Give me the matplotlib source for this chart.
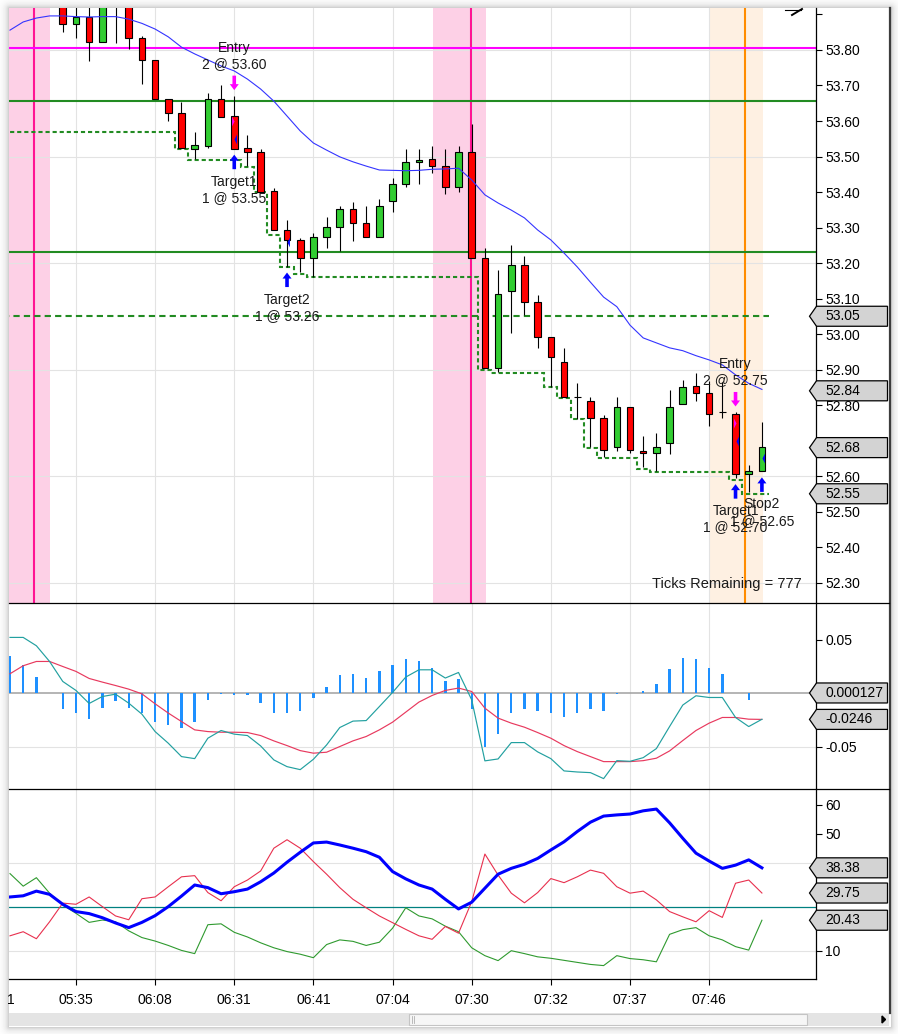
import numpy as np
import matplotlib
matplotlib.use('Agg')
import matplotlib.pyplot as plt
from matplotlib.patches import Polygon, Rectangle
from matplotlib.lines import Line2D
from matplotlib.transforms import IdentityTransform

plt.rcParams['font.family'] = ['Liberation Sans', 'DejaVu Sans']
plt.rcParams['font.size'] = 10

W, H = 898, 1034

# ---- time axis ----
n_bars = 58
time_ticks = [5, 11, 17, 23, 29, 35, 41, 47, 53]
time_labels = ['05:35', '06:08', '06:31', '06:41', '07:04', '07:30', '07:32', '07:37', '07:46']

# ---- candles (bars 0-3 are above the visible price range) ----
first_candle = 4
opens = [53.94, 53.872, 53.892, 53.822, 53.935, 53.93, 53.833, 53.771, 53.661, 53.622,
         53.522, 53.530, 53.661, 53.613, 53.524, 53.512, 53.403, 53.293, 53.265, 53.213,
         53.272, 53.302, 53.351, 53.312, 53.272, 53.374, 53.422, 53.484, 53.492, 53.472,
         53.413, 53.512, 53.213, 52.903, 53.122, 53.194, 53.091, 52.992, 52.922, 52.823,
         52.812, 52.763, 52.683, 52.793, 52.671, 52.664, 52.692, 52.802, 52.854, 52.833,
         52.781, 52.774, 52.606, 52.613]
highs = [53.96, 53.92, 53.93, 53.94, 53.95, 53.94, 53.839, 53.771, 53.661, 53.654,
         53.568, 53.678, 53.701, 53.670, 53.561, 53.521, 53.410, 53.321, 53.270, 53.284,
         53.329, 53.361, 53.373, 53.361, 53.379, 53.439, 53.521, 53.521, 53.530, 53.521,
         53.530, 53.592, 53.241, 53.180, 53.251, 53.220, 53.110, 52.992, 52.960, 52.861,
         52.822, 52.772, 52.823, 52.793, 52.713, 52.722, 52.842, 52.870, 52.891, 52.868,
         52.866, 52.779, 52.631, 52.753]
lows = [53.852, 53.833, 53.770, 53.822, 53.821, 53.802, 53.703, 53.661, 53.601, 53.523,
        53.492, 53.523, 53.612, 53.522, 53.474, 53.401, 53.293, 53.190, 53.175, 53.161,
        53.241, 53.235, 53.263, 53.272, 53.272, 53.343, 53.413, 53.422, 53.453, 53.393,
        53.401, 53.213, 52.903, 52.894, 53.002, 53.054, 52.961, 52.852, 52.823, 52.760,
        52.683, 52.653, 52.670, 52.664, 52.624, 52.613, 52.662, 52.802, 52.812, 52.742,
        52.763, 52.594, 52.554, 52.613]
closes = [53.872, 53.892, 53.822, 53.93, 53.93, 53.833, 53.771, 53.661, 53.622, 53.523,
          53.531, 53.661, 53.612, 53.522, 53.512, 53.401, 53.293, 53.265, 53.213, 53.272,
          53.302, 53.351, 53.312, 53.272, 53.361, 53.423, 53.484, 53.491, 53.473, 53.413,
          53.512, 53.213, 52.903, 53.112, 53.194, 53.091, 52.992, 52.934, 52.823, 52.823,
          52.763, 52.673, 52.793, 52.673, 52.664, 52.683, 52.793, 52.852, 52.833, 52.774,
          52.781, 52.606, 52.613, 52.683]

sma = [53.856, 53.879, 53.890, 53.896, 53.896, 53.894, 53.893, 53.894, 53.894, 53.887,
       53.875, 53.859, 53.837, 53.808, 53.789, 53.772, 53.755, 53.741, 53.718, 53.690,
       53.656, 53.614, 53.572, 53.538, 53.518, 53.499, 53.485, 53.473, 53.462, 53.461,
       53.460, 53.461, 53.464, 53.465, 53.467, 53.434, 53.392, 53.369, 53.349, 53.327,
       53.293, 53.265, 53.228, 53.189, 53.146, 53.104, 53.077, 53.025, 52.989, 52.975,
       52.961, 52.953, 52.939, 52.927, 52.913, 52.885, 52.861, 52.844]

trail_stop = ([53.57] * 13 + [53.52] + [53.49] * 4 + [53.47, 53.40, 53.28, 53.19, 53.17]
              + [53.16] * 13 + [52.90] + [52.89] * 4 + [52.85, 52.82, 52.76, 52.68]
              + [52.65] * 3 + [52.62] + [52.61] * 6 + [52.59] + [52.55] * 2)

entry_level = 53.805
green_levels = [53.655, 53.23]
target_level = 53.05

pink_bands = [(-1.0, 3.03), (32.07, 36.09)]
pink_marks = [1.85, 34.95]
orange_band = (53.05, 57.07)
orange_mark = 55.7

entry_bars = [17, 55]
entry_labels = ['Entry\n2 @ 53.60', 'Entry\n2 @ 52.75']
exit_bars = [17, 21, 55, 57]
exit_labels = ['Target1\n1 @ 53.55', 'Target2\n1 @ 53.26', 'Target1\n1 @ 52.70', 'Stop2\n1 @ 52.65']
entry_fills = [(17, 53.60), (55, 52.75)]
exit_fills = [(17, 53.55), (21, 53.26), (55, 52.70), (57, 52.65)]

price_tags = [(53.05, '53.05'), (52.84, '52.84'), (52.68, '52.68'), (52.55, '52.55')]
ticks_remaining = 777

# ---- MACD ----
macd_line = [0.0521, 0.0521, 0.0443, 0.0296, 0.0109, 0.0025, -0.0097, -0.0032, -0.0010, -0.0094,
             -0.0197, -0.0360, -0.0469, -0.0594, -0.0613, -0.0422, -0.0350, -0.0384, -0.0397, -0.0494,
             -0.0625, -0.0688, -0.0716, -0.0619, -0.0485, -0.0322, -0.0262, -0.0257, -0.0126, 0.0006,
             0.0150, 0.0218, 0.0218, 0.0141, 0.0193, -0.0063, -0.0634, -0.0616, -0.0463, -0.0463,
             -0.0550, -0.0613, -0.0728, -0.0738, -0.0744, -0.0800, -0.0632, -0.0638, -0.0604, -0.0519,
             -0.0313, -0.0112, -0.0025, -0.0041, -0.0041, -0.0228, -0.0313, -0.0245]
macd_signal = [0.0181, 0.0256, 0.0296, 0.0296, 0.0249, 0.0203, 0.0137, 0.0103, 0.0071, 0.0037,
               -0.0007, -0.0100, -0.0187, -0.0266, -0.0344, -0.0360, -0.0366, -0.0366, -0.0369, -0.0397,
               -0.0447, -0.0491, -0.0538, -0.0562, -0.0553, -0.0500, -0.0447, -0.0406, -0.0344, -0.0272,
               -0.0178, -0.0084, -0.0022, 0.0025, 0.0047, 0.0015, -0.0141, -0.0234, -0.0281, -0.0319,
               -0.0369, -0.0422, -0.0491, -0.0547, -0.0594, -0.0641, -0.0641, -0.0641, -0.0632, -0.0609,
               -0.0541, -0.0444, -0.0350, -0.0281, -0.0228, -0.0228, -0.0244, -0.0246]
macd_hist = [0.0343, 0.0265, 0.0153, 0.0, -0.0147, -0.0182, -0.0238, -0.0135, -0.0078, -0.0135,
             -0.0185, -0.0275, -0.0294, -0.0331, -0.0266, -0.0060, -0.0005, -0.0022, -0.0022, -0.0088,
             -0.0182, -0.0182, -0.0172, -0.0050, 0.0059, 0.0172, 0.0181, 0.0143, 0.0209, 0.0265,
             0.0321, 0.0303, 0.0237, 0.0115, 0.0134, -0.0147, -0.0500, -0.0378, -0.0182, -0.0147,
             -0.0172, -0.0182, -0.0228, -0.0182, -0.0153, -0.0163, -0.0005, 0.0, 0.0022, 0.0087,
             0.0228, 0.0331, 0.0321, 0.0237, 0.0181, 0.0, -0.0060, 0.000127]
macd_tags = [(0.000127, '0.000127'), (-0.0246, '-0.0246')]

# ---- ADX / DMI ----
adx = [28.4, 28.8, 30.4, 29.3, 25.9, 23.4, 22.7, 21.3, 19.5, 17.9,
       19.7, 22.0, 25.1, 28.7, 32.5, 31.6, 29.5, 30.2, 31.1, 33.6,
       36.6, 40.3, 43.7, 46.9, 47.2, 46.2, 45.1, 43.9, 42.0, 37.1,
       34.6, 32.5, 31.1, 27.6, 24.3, 26.6, 31.4, 36.2, 38.2, 39.6,
       41.6, 44.5, 47.3, 50.8, 54.0, 56.1, 56.5, 56.8, 57.9, 58.5,
       53.8, 48.5, 43.4, 40.7, 38.2, 39.3, 41.1, 38.38]
di_plus = [15.1, 16.5, 14.1, 19.9, 26.3, 25.9, 28.4, 25.1, 21.9, 20.6,
           27.8, 28.4, 31.9, 35.3, 35.7, 29.9, 27.1, 31.9, 34.2, 37.3,
           45.1, 48.0, 45.1, 40.5, 36.2, 31.6, 27.6, 24.7, 21.9, 19.6,
           17.3, 15.1, 13.9, 18.3, 16.0, 26.8, 43.1, 35.9, 29.7, 26.4,
           29.9, 34.7, 33.3, 35.3, 37.6, 36.5, 31.9, 29.7, 30.4, 27.4,
           23.4, 21.6, 19.9, 23.7, 21.4, 33.1, 34.2, 29.75]
di_minus = [36.4, 32.1, 35.0, 29.7, 25.6, 22.8, 19.7, 20.5, 19.9, 16.8,
            14.5, 13.3, 11.8, 10.1, 9.0, 18.9, 19.2, 16.3, 14.7, 12.7,
            11.0, 9.7, 8.8, 7.6, 12.1, 13.7, 13.2, 11.8, 12.9, 17.7,
            24.7, 21.9, 20.9, 18.4, 16.5, 11.0, 8.3, 6.6, 10.0, 9.0,
            7.9, 7.4, 6.7, 6.0, 5.3, 4.9, 8.3, 7.3, 6.9, 6.2,
            15.6, 17.2, 17.9, 15.1, 13.7, 11.4, 10.2, 20.43]
adx_level = 25
adx_tags = [(38.38, '38.38'), (29.75, '29.75'), (20.43, '20.43')]


fig = plt.figure(figsize=(W / 100, H / 100), dpi=100)
fig.patch.set_facecolor('white')


def rect(x0, y0, x1, y1):
    return [x0 / W, 1 - y1 / H, (x1 - x0) / W, (y1 - y0) / H]


# window shadow + scrollbar, drawn on a pixel-space background axes
bg = fig.add_axes([0, 0, 1, 1], zorder=-10)
yy, xx = np.mgrid[0:H, 0:W]
dx = np.maximum(np.maximum(9 - xx, xx - 890), 0)
dy = np.maximum(np.maximum(8 - yy, yy - 1026), 0)
dist = np.hypot(dx, dy)
shade = np.where(dist > 0, 1 - 0.24 * np.exp(-dist / 3.5), 1.0)
bg.imshow(shade, cmap='gray', vmin=0, vmax=1, extent=[0, W, H, 0], aspect='auto',
          interpolation='nearest')
bg.add_patch(Rectangle((9, 1013), 880, 13, facecolor='#e4e4e4', edgecolor='none'))
bg.add_patch(Rectangle((409, 1014), 398, 11, facecolor='#f6f6f6', edgecolor='#c4c4c4', lw=0.8))
bg.plot([412, 412], [1016, 1023], color='#b0b0b0', lw=0.6)
bg.plot([414, 414], [1016, 1023], color='#b0b0b0', lw=0.6)
bg.add_patch(Polygon([(882, 1016), (885.5, 1019.5), (882, 1023)], closed=True, color='black'))
bg.plot([889.5, 889.5], [8, 1013], color='#3c3c3c', lw=1.6)
bg.set_xlim(0, W)
bg.set_ylim(H, 0)
bg.axis('off')

ax_p = fig.add_axes(rect(9, 8, 816, 603))
ax_m = fig.add_axes(rect(9, 603, 816, 789.3), sharex=ax_p)
ax_a = fig.add_axes(rect(9, 789.3, 816, 979.3), sharex=ax_p)

grid_col = '#e3e3e3'
for ax in (ax_p, ax_m, ax_a):
    ax.set_facecolor('white')
    ax.spines['left'].set_visible(False)
    ax.spines['top'].set_visible(False)
    ax.spines['right'].set_color('black')
    ax.spines['right'].set_linewidth(0.9)
    ax.yaxis.tick_right()
    ax.tick_params(axis='y', direction='out', length=4.3, width=0.8, pad=2.4, labelsize=10,
                   colors='black')
    for t in time_ticks:
        ax.axvline(t, color=grid_col, lw=0.8, zorder=0.6)

ax_p.spines['bottom'].set_visible(False)
ax_m.spines['bottom'].set_visible(False)
ax_a.spines['bottom'].set_linewidth(0.9)
ax_p.tick_params(axis='x', bottom=False, labelbottom=False)
ax_m.tick_params(axis='x', bottom=False, labelbottom=False)
ax_a.tick_params(axis='x', direction='out', length=4.3, width=0.8, pad=5.5, labelsize=10)

ax_p.set_xlim(-0.076, 61.1)
ax_a.set_xticks(time_ticks)
ax_a.set_xticklabels(time_labels)

# ---------------- price panel ----------------
ax_p.set_ylim(52.2423, 53.9183)
p_ticks = np.round(np.arange(52.30, 53.95, 0.10), 2)
ax_p.set_yticks(p_ticks)
# 53.90 has no room at the top, 52.70 sits behind the last-close tag
ax_p.set_yticklabels(['' if (v > 53.85 or abs(v - 52.70) < 0.01) else f'{v:.2f}' for v in p_ticks])
for g in [52.30, 52.60, 52.90, 53.20, 53.50, 53.80]:
    ax_p.axhline(g, color=grid_col, lw=0.8, zorder=0.6)

for a, b in pink_bands:
    ax_p.axvspan(a, b, color='#fdd0e6', lw=0, zorder=0.5)
ax_p.axvspan(*orange_band, color='#fef0e2', lw=0, zorder=0.5)
for m in pink_marks:
    ax_p.axvline(m, color='#ff1493', lw=1.5, zorder=2)
ax_p.axvline(orange_mark, color='#ff8c00', lw=1.5, zorder=2)

ax_p.axhline(entry_level, color='#ff00ff', lw=1.5, zorder=2)
for g in green_levels:
    ax_p.axhline(g, color='#228b22', lw=1.5, zorder=2)
ax_p.hlines(target_level, -0.5, n_bars - 0.5, color='#228b22', lw=1.5,
            linestyles=(0, (3, 2)), zorder=2)
ax_p.stairs(trail_stop, np.arange(n_bars + 1) - 0.5, baseline=None, color='#228b22',
            lw=1.5, linestyle=(0, (2, 1.4)), zorder=3)

cx = np.arange(first_candle, n_bars)
o = np.array(opens)
c = np.array(closes)
up = c >= o
ax_p.vlines(cx, lows, highs, color='black', lw=0.8, zorder=3.5)
ax_p.bar(cx, np.abs(c - o), bottom=np.minimum(o, c), width=0.5,
         color=np.where(up, '#32cd32', '#ff0000'), edgecolor='black', linewidth=0.8, zorder=4)

ax_p.plot(np.arange(n_bars), sma, color='#3434ff', lw=0.8, zorder=5)

tri_right = [(-1, -2), (0, 0), (-1, 2), (-1, -2)]
tri_left = [(1, -2), (0, 0), (1, 2), (1, -2)]
for b, v in entry_fills:
    ax_p.plot(b, v, marker=tri_right, ms=7, color='#ff00ff', mew=0, zorder=6)
for b, v in exit_fills:
    ax_p.plot(b, v, marker=tri_left, ms=7, color='#0000ff', mew=0, zorder=6)


def arrow(ax, bar, price, up, color):
    px, py = ax.transData.transform((bar, price))
    d = 1 if up else -1
    tip = py - 6 * d
    base = tip - 6 * d
    tail = tip - 14.5 * d
    pts = [(px, tip), (px + 4.5, base), (px + 1.8, base), (px + 1.8, tail),
           (px - 1.8, tail), (px - 1.8, base), (px - 4.5, base)]
    ax.add_patch(Polygon(pts, closed=True, facecolor=color, edgecolor='none',
                         transform=IdentityTransform(), zorder=6))


for b, lab in zip(entry_bars, entry_labels):
    hi = highs[b - first_candle]
    arrow(ax_p, b, hi, False, '#ff00ff')
    ax_p.annotate(lab, xy=(b, hi), xytext=(0, 25), textcoords='offset pixels',
                  ha='center', va='bottom', color='#1a1a1a', zorder=7)
for b, lab in zip(exit_bars, exit_labels):
    lo = lows[b - first_candle]
    arrow(ax_p, b, lo, True, '#0000ff')
    ax_p.annotate(lab, xy=(b, lo), xytext=(0, -26), textcoords='offset pixels',
                  ha='center', va='top', color='#1a1a1a', zorder=7)

fig.text(802 / W, 1 - 584 / H, f'Ticks Remaining = {ticks_remaining}', ha='right',
         va='center', fontsize=10.5, color='#1a1a1a')

# cut-off drawing object at the top right
fig.add_artist(Line2D([785 / W, 801 / W], [1 - 9.5 / H] * 2, color='black', lw=0.8))
fig.add_artist(Line2D([792 / W, 802 / W], [1 - 15 / H, 1 - 9 / H], color='black', lw=1.4))

# ---------------- MACD panel ----------------
ax_m.set_ylim(-0.0900, 0.0843)
ax_m.set_yticks([-0.05, 0, 0.05])
ax_m.set_yticklabels(['-0.05', '', '0.05'])
ax_m.axhline(-0.05, color=grid_col, lw=0.8, zorder=0.6)
ax_m.axhline(0, color='#a0a0a0', lw=1.1, zorder=1)
bars = np.arange(n_bars)
ax_m.bar(bars, macd_hist, width=0.18, color='#1e90ff', zorder=2)
ax_m.plot(bars, macd_signal, color='#e8395e', lw=0.85, zorder=3)
ax_m.plot(bars, macd_line, color='#22a0a0', lw=0.85, zorder=3)

# ---------------- ADX / DMI panel ----------------
ax_a.set_ylim(0.205, 65.27)
ax_a.set_yticks([10, 20, 30, 40, 50, 60])
ax_a.set_yticklabels(['10', '', '', '', '50', '60'])
for g in [10, 40]:
    ax_a.axhline(g, color=grid_col, lw=0.8, zorder=0.6)
ax_a.axhline(adx_level, color='#008080', lw=0.9, zorder=1)
ax_a.plot(bars, di_minus, color='#2f9a2f', lw=0.8, zorder=2)
ax_a.plot(bars, di_plus, color='#e8304e', lw=0.8, zorder=2)
ax_a.plot(bars, adx, color='#0000ff', lw=2.2, zorder=3)


# value tags on the right axis
def tag(ax, value, text):
    y = ax.transData.transform((0, value))[1]
    pts = [(809.5, y), (816.5, y + 10), (887.5, y + 10), (887.5, y - 10), (816.5, y - 10)]
    fig.add_artist(Polygon(pts, closed=True, facecolor='#d3d3d3', edgecolor='black', lw=0.9,
                           transform=IdentityTransform(), zorder=5))
    fig.text(825, y, text, transform=IdentityTransform(), ha='left', va='center',
             fontsize=10, color='black', zorder=6)


for v, t in price_tags:
    tag(ax_p, v, t)
for v, t in macd_tags:
    tag(ax_m, v, t)
for v, t in adx_tags:
    tag(ax_a, v, t)

# panel separators run across the axis strip too
for ysep in (603, 789.3):
    fig.add_artist(Line2D([9 / W, 889 / W], [1 - ysep / H] * 2, color='black', lw=0.9))

# clipped time label at the left edge
fig.text(11 / W, 1 - 1000 / H, '1', ha='center', va='center', fontsize=10)

fig.savefig('out.png', dpi=100)
